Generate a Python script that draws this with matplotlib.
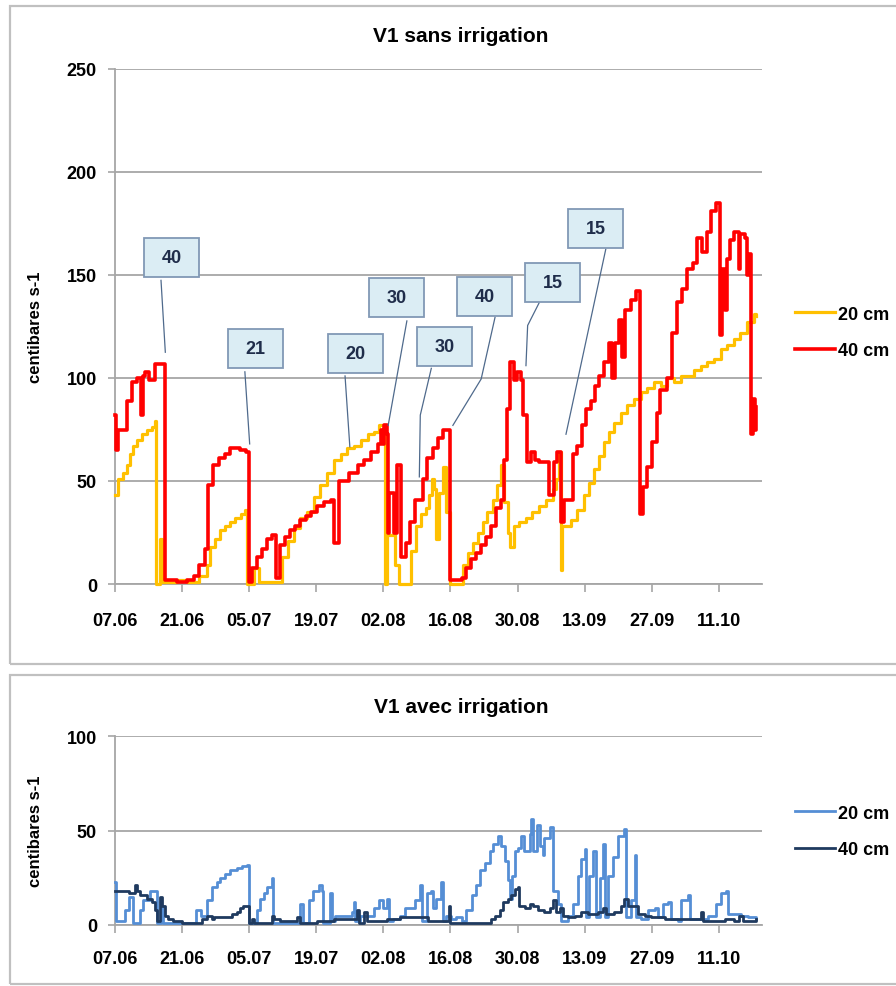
import datetime as dt
import matplotlib
matplotlib.use('Agg')
import matplotlib.pyplot as plt
from matplotlib.patches import Rectangle

plt.rcParams['font.family'] = ['Liberation Sans', 'DejaVu Sans']
plt.rcParams['font.weight'] = 'bold'

# day offsets from 07.06
start = dt.date(2010, 6, 7)
tick_days = list(range(0, 127, 14))
tick_labels = [(start + dt.timedelta(days=d)).strftime('%d.%m') for d in tick_days]

# V1 sans irrigation, 20 cm
top20_days = [0, 0.7, 1.7, 2.4, 3.1, 3.8, 4.5, 5.6, 6.6, 7.7, 8.4, 8.6, 9.3, 9.8, 13, 15, 17.5,
              19.3, 19.9, 20.9, 22, 23, 24, 25, 26.2, 27.2, 27.6, 29, 30, 34.9, 36, 37.3, 38.7,
              40, 41.5, 42.8, 44.3, 45.7, 47.1, 48.5, 49.9, 51.3, 52.7, 54, 55.1, 56.4, 56.8,
              58.5, 59.2, 61.8, 62.8, 63.9, 64.9, 65.6, 66.2, 66.6, 67, 67.5, 68.4, 69, 70,
              72.6, 73.6, 74.6, 75.7, 76.7, 77.7, 78.8, 79.8, 80.5, 81.2, 82, 82.5, 83.3, 84.4,
              85.7, 87, 88.4, 89.9, 91.3, 92, 92.7, 93, 93.3, 95.1, 96.5, 97.9, 98.9, 100,
              101, 102, 103, 104.1, 105.5, 106.9, 108.3, 109.7, 111, 112.5, 113.9, 115.2,
              116.6, 118, 120.8, 122.2, 123.6, 125, 126.4, 127.8, 129.1, 130.5, 131.9, 133.3, 133.8]
top20_vals = [43, 51, 54, 58, 63, 67, 70, 73, 75, 76, 79, 0, 22, 1, 2, 1, 4,
              9, 18, 22, 26, 28, 30, 32, 34, 36, 0, 8, 1, 13, 21, 27, 32,
              35, 42, 48, 54, 60, 63, 66, 67, 70, 73, 74, 77, 0, 24,
              9, 0, 16, 28, 34, 37, 43, 51, 46, 22, 44, 57, 35, 0,
              9, 15, 20, 25, 30, 35, 41, 48, 58, 40, 25, 18, 28, 30,
              32, 35, 38, 41, 46, 51, 64, 7, 28, 31, 36, 43, 49, 56,
              62, 69, 74, 78, 83, 87, 90, 93, 95, 98, 96, 100,
              98, 101, 104, 106, 108, 109, 114, 116, 119, 122, 127, 131, 130]

# V1 sans irrigation, 40 cm
top40_days = [0, 0.3, 0.7, 2.4, 3.5, 4.5, 5.5, 5.9, 6.3, 7.0, 8.4, 10.5, 13, 15, 16.5, 17.6,
              18.8, 19.5, 20.5, 21.7, 23, 24, 26, 27.4, 28, 28.6, 29.7, 30.7, 31.8, 32.8, 33.5,
              34.5, 35.5, 36.6, 37.6, 38.7, 39.8, 40.8, 42.2, 43.6, 45, 45.7, 46.8, 48.8, 50.6,
              52, 53.4, 54.8, 55.5, 55.9, 56.2, 56.7, 56.9, 57.2, 58.2, 58.8, 59.6, 60.8, 61.6,
              62.7, 64.2, 65.2, 66.4, 67.4, 68.5, 70, 72.5, 73.3, 74.3, 75.3, 76.4, 77.4, 78.5,
              79.5, 80.5, 81.2, 81.8, 82.4, 83.2, 83.8, 84.7, 85.1, 86, 86.8, 87.6, 88.5, 90.5,
              91.5, 92.3, 93, 93.6, 95.5, 96.4, 97.5, 98.2, 99.3, 100.2, 101, 102, 103, 103.8,
              104.3, 105.2, 105.8, 106.4, 107.6, 108.7, 109.6, 110.2, 111, 112, 113, 113.8,
              115.2, 116.3, 117.3, 118.4, 119.4, 120.5, 121.5, 122.4, 123.6, 124.3, 125.3,
              126.3, 126.6, 127.3, 127.6, 128.4, 129.2, 130.2, 130.5, 131.4, 131.9, 132.3,
              132.8, 133.1, 133.5, 133.8]
top40_vals = [82, 65, 75, 89, 98, 100, 82, 101, 103, 99, 107, 2, 1, 2, 4, 9,
              17, 48, 58, 61, 63, 66, 65, 64, 1, 8, 13, 17, 22, 24, 3,
              19, 23, 26, 28, 31, 33, 35, 38, 40, 41, 20, 50, 54, 58,
              60, 64, 68, 75, 68, 77, 73, 25, 44, 25, 58, 13, 20, 30,
              41, 51, 61, 66, 71, 75, 2, 3, 8, 12, 15, 19, 23, 28,
              37, 41, 60, 85, 108, 99, 103, 99, 82, 59, 64, 60, 59, 43,
              59, 64, 30, 41, 63, 67, 77, 85, 89, 96, 101, 108, 117, 100,
              117, 128, 110, 133, 138, 142, 34, 47, 57, 69, 83, 94,
              100, 122, 137, 143, 153, 156, 168, 161, 171, 181, 185,
              121, 153, 133, 158, 167, 171, 153, 170, 168, 150, 160,
              73, 90, 75, 86]

# V1 avec irrigation, 20 cm
bot20_days = [0, 0.3, 2, 3, 3.8, 5.2, 5.9, 7.3, 8.7, 9.7, 10.1, 17, 17.9, 19.2, 20.2, 21.2,
              21.9, 23, 24, 25.4, 26.5, 27.5, 27.9, 29.6, 30.3, 31, 31.7, 32.7, 33, 38.6, 39.2,
              40.4, 41.4, 42.5, 43.2, 43.5, 44.9, 45.3, 46, 48.4, 49.4, 49.8, 50.1, 51.2, 54,
              55, 56, 56.8, 57.2, 58.1, 59.5, 60.6, 62.7, 63.7, 64, 65, 66, 66.3, 67, 68.1,
              68.4, 69, 70.2, 71.2, 72.3, 73.3, 74.4, 75.4, 76.1, 77.2, 78.2, 78.9, 80, 80.6,
              81.3, 81.9, 82.4, 82.8, 83.4, 84.1, 84.8, 85.4, 86.5, 86.8, 87.2, 88, 88.7, 89.3,
              89.6, 90.7, 91.4, 92.4, 93.1, 94.5, 95.6, 96.6, 97.3, 98, 98.3, 99, 99.7, 100.4,
              101.1, 101.8, 102.2, 102.9, 103.9, 105, 106.3, 106.6, 107.7, 108.4, 108.8, 109.8,
              111.2, 112.6, 113.3, 114.3, 115.3, 116, 117.4, 118.1, 119.5, 119.9, 122.3, 123.7,
              125.4, 126.5, 127.5, 127.9, 129.2, 130.6, 132, 133.8]
bot20_vals = [23, 2, 8, 15, 1, 8, 13, 18, 1, 10, 1, 8, 5, 13, 20, 23,
              25, 27, 29, 30, 31, 32, 1, 8, 14, 17, 20, 25, 1, 11, 1,
              13, 18, 21, 18, 1, 17, 2, 5, 5, 7, 12, 2, 5, 9,
              13, 9, 14, 2, 3, 5, 9, 13, 21, 2, 17, 18, 9, 14, 23,
              2, 5, 3, 4, 2, 8, 16, 21, 29, 33, 39, 43, 47, 42,
              34, 24, 14, 26, 39, 41, 47, 39, 48, 56, 39, 53, 42, 37,
              46, 52, 18, 11, 2, 5, 11, 26, 35, 40, 4, 26, 39, 4,
              25, 43, 4, 26, 36, 47, 51, 4, 13, 37, 4, 3,
              8, 9, 4, 11, 12, 3, 2, 13, 16, 3, 3, 5,
              11, 17, 18, 6, 6, 5, 4, 3]

# V1 avec irrigation, 40 cm
bot40_days = [0, 3, 4.2, 4.6, 5.2, 6.6, 7.7, 8.4, 8.8, 9.4, 9.8, 10.4, 11.1, 12.2, 14, 18.1,
              19.2, 20.2, 20.6, 23, 24.4, 25.4, 26.1, 26.8, 27.5, 28, 28.5, 29, 32.7, 33.1,
              34.5, 38, 38.5, 42.1, 45.6, 48, 50.5, 50.9, 51.9, 52.6, 56.8, 59.5, 64.4, 65.4,
              69.6, 70, 78.5, 79.2, 80.3, 81, 82, 82.7, 83.4, 84.1, 84.4, 85.5, 86.5, 87.2,
              88.2, 89.6, 90.7, 91.4, 92.1, 92.8, 93.5, 94.5, 95.9, 97.3, 98.7, 100.8, 101.8,
              102.5, 104.2, 105.6, 106.3, 107, 108, 109.1, 110.5, 111.9, 114.7, 117.4, 120.2,
              122.3, 122.6, 127.2, 129.2, 130.3, 131, 133.8]
bot40_vals = [18, 17, 21, 18, 16, 14, 12, 8, 2, 15, 10, 5, 3, 2, 1, 3,
              5, 3, 4, 4, 6, 7, 9, 10, 10, 1, 3, 1, 5, 3,
              2, 4, 1, 2, 3, 3, 8, 1, 7, 2, 3, 4, 4, 2,
              10, 1, 3, 5, 8, 12, 14, 16, 19, 20, 10, 9, 11, 10,
              8, 7, 9, 13, 7, 9, 5, 4, 5, 7, 6, 7, 9,
              6, 7, 10, 14, 10, 10, 6, 5, 4, 3, 3, 3,
              7, 2, 3, 2, 5, 2, 3]

# callouts on the top chart: label, box centre (day, value), leader line
note_labels = ['40', '21', '20', '30', '30', '40', '15', '15']
note_box = [(11.85, 158.5), (29.35, 114.2), (50.25, 112), (58.75, 138.9),
            (68.7, 115.5), (77.1, 139.5), (91.3, 146.5), (100.3, 172.5)]
note_lines = [[(9.6, 147.4), (10.5, 112.5)],
              [(27.1, 103), (28.1, 68)],
              [(48, 101), (49, 66.6)],
              [(60.9, 127.7), (57, 77)],
              [(66, 104.7), (63.7, 82), (63.5, 52)],
              [(79.3, 129.5), (76.4, 99.5), (70.5, 77)],
              [(88.5, 136.5), (86.1, 125.5), (85.75, 106)],
              [(102.4, 162.5), (94.1, 72.7)]]

W, H = 896, 987
fig = plt.figure(figsize=(W / 100, H / 100), dpi=100)

# panel frames
for y0, y1 in [(7, 665), (676, 985)]:
    fig.patches.append(Rectangle((10 / W, 1 - y1 / H), 1.2, (y1 - y0) / H,
                                 transform=fig.transFigure, fill=False,
                                 edgecolor='#c0c0c0', lw=1.6))

grey = '#a6a6a6'


def style(ax, ymax, step, pad_x):
    ax.set_xlim(0, 135)
    ax.set_ylim(0, ymax)
    ax.set_yticks(range(0, ymax + 1, step))
    ax.set_xticks(tick_days)
    ax.set_xticklabels(tick_labels)
    ax.yaxis.grid(True, color=grey, lw=1.3)
    ax.set_axisbelow(True)
    for s in ['top', 'right']:
        ax.spines[s].set_visible(False)
    for s in ['left', 'bottom']:
        ax.spines[s].set_color(grey)
        ax.spines[s].set_linewidth(1.3)
    ax.tick_params(axis='y', length=5, width=1.2, color=grey, pad=8, labelsize=13)
    ax.tick_params(axis='x', length=6, width=1.2, color=grey, pad=pad_x, labelsize=13)
    ax.set_ylabel('centibares s-1', fontsize=12, fontweight='bold', labelpad=17)


ax1 = fig.add_axes([115 / W, 1 - 585 / H, 647 / W, 515 / H])
style(ax1, 250, 50, 14)
l1, = ax1.plot(top20_days, top20_vals, drawstyle='steps-post', color='#ffc000', lw=2.3,
               zorder=3, clip_on=False, label='20 cm')
l2, = ax1.plot(top40_days, top40_vals, drawstyle='steps-post', color='#ff0000', lw=2.6,
               zorder=3, clip_on=False, label='40 cm')

for lab, (cx, cy), pts in zip(note_labels, note_box, note_lines):
    ax1.plot([p[0] for p in pts], [p[1] for p in pts], color='#4f6a8c', lw=0.9, zorder=4)
    ax1.add_patch(Rectangle((cx - 5.75, cy - 9.5), 11.5, 19, facecolor='#dbedf4',
                            edgecolor='#8198b5', lw=1.3, zorder=5))
    ax1.text(cx, cy, lab, ha='center', va='center', fontsize=13, fontweight='bold',
             color='#1f2d4a', zorder=6)

ax1.legend(handles=[l1, l2], loc='center left', bbox_to_anchor=(795 / W, 1 - 333.5 / H),
           bbox_transform=fig.transFigure, frameon=False, fontsize=13, handlelength=2.2,
           handletextpad=0.2, labelspacing=1.1, borderpad=0, borderaxespad=0)
fig.text(461 / W, 1 - 37 / H, 'V1 sans irrigation', ha='center', va='center',
         fontsize=15, fontweight='bold')

ax2 = fig.add_axes([115 / W, 1 - 926 / H, 647 / W, 189 / H])
style(ax2, 100, 50, 12)
l3, = ax2.plot(bot20_days, bot20_vals, drawstyle='steps-post', color='#558ed5', lw=2.0,
               zorder=3, clip_on=False, label='20 cm')
l4, = ax2.plot(bot40_days, bot40_vals, drawstyle='steps-post', color='#1f3a5f', lw=2.0,
               zorder=3, clip_on=False, label='40 cm')
ax2.legend(handles=[l3, l4], loc='center left', bbox_to_anchor=(795 / W, 1 - 832.5 / H),
           bbox_transform=fig.transFigure, frameon=False, fontsize=13, handlelength=2.2,
           handletextpad=0.2, labelspacing=1.1, borderpad=0, borderaxespad=0)
fig.text(461 / W, 1 - 708 / H, 'V1 avec irrigation', ha='center', va='center',
         fontsize=15, fontweight='bold')

fig.savefig('out.png', dpi=100)
